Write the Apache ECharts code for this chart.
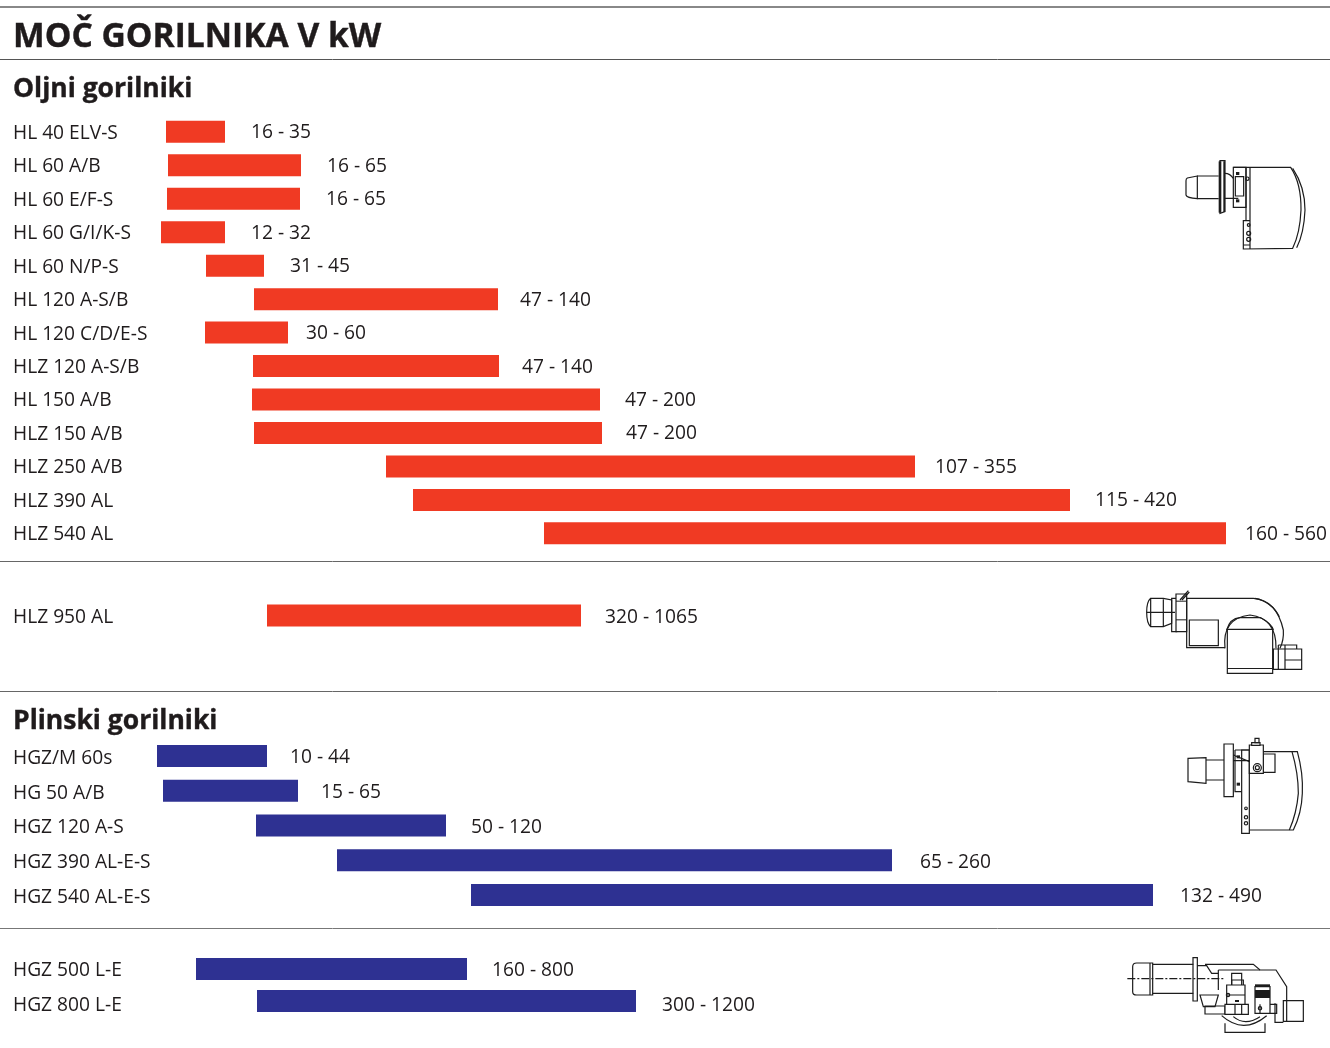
<!DOCTYPE html>
<html><head><meta charset="utf-8">
<style>html,body{margin:0;padding:0;background:#fff}#c{width:1330px;height:1048px}</style>
<script src="https://cdn.jsdelivr.net/npm/echarts@6/dist/echarts.min.js"></script>
</head><body><div id="c"></div>
<script>
// Category names
var oilNames = ['HL 40 ELV-S','HL 60 A/B','HL 60 E/F-S','HL 60 G/I/K-S','HL 60 N/P-S','HL 120 A-S/B','HL 120 C/D/E-S','HLZ 120 A-S/B','HL 150 A/B','HLZ 150 A/B','HLZ 250 A/B','HLZ 390 AL','HLZ 540 AL'];
var oilBigNames = ['HLZ 950 AL'];
var gasNames = ['HGZ/M 60s','HG 50 A/B','HGZ 120 A-S','HGZ 390 AL-E-S','HGZ 540 AL-E-S'];
var gasBigNames = ['HGZ 500 L-E','HGZ 800 L-E'];

// Power range in kW, as printed beside each bar
var oilLow  = [16,16,16,12,31,47,30,47,47,47,107,115,160];
var oilHigh = [35,65,65,32,45,140,60,140,200,200,355,420,560];
var oilBigLow = [320];
var oilBigHigh = [1065];
var gasLow  = [10,15,50,65,132];
var gasHigh = [44,65,120,260,490];
var gasBigLow = [160,300];
var gasBigHigh = [800,1200];

// The printed bars do not follow the kW figures on one linear scale and the
// chart has no axis, so bar extents are read off the picture in its own scale units.
var oilFrom = [166,168,167,161,206,254,205,253,252,254,386,413,544];
var oilTo   = [225,301,300,225,264,498,288,499,600,602,915,1070,1226];
var oilBigFrom = [267];
var oilBigTo   = [581];
var gasFrom = [157,163,256,337,471];
var gasTo   = [267,298,446,892,1153];
var gasBigFrom = [196,257];
var gasBigTo   = [467,636];

// Gap between each bar and its value label
var oilGap = [26,26,26,26,26,22,18,23,25,24,20,25,19];
var oilBigGap = [24];
var gasGap = [23,23,25,28,27];
var gasBigGap = [25,26];

var RED = '#f03a23', BLUE = '#2e3192', INK = '#1f1b1c';
var FONT = '"Open Sans"';

var sections = [
  {names: oilNames, low: oilLow, high: oilHigh, from: oilFrom, to: oilTo, gap: oilGap, color: RED, top: 115.1, height: 435, pad: [3], off: [1]},
  {names: oilBigNames, low: oilBigLow, high: oilBigHigh, from: oilBigFrom, to: oilBigTo, gap: oilBigGap, color: RED, top: 595, height: 41, pad: [4], off: [2]},
  {names: gasNames, low: gasLow, high: gasHigh, from: gasFrom, to: gasTo, gap: gasGap, color: BLUE, top: 738.6, height: 173.75, pad: [5], off: [2]},
  {names: gasBigNames, low: gasBigLow, high: gasBigHigh, from: gasBigFrom, to: gasBigTo, gap: gasBigGap, color: BLUE, top: 953, height: 64, pad: [4, 10], off: [2, 5]}
];

var grids = [], xAxes = [], yAxes = [], series = [];
sections.forEach(function (s, i) {
  var rich = {};
  s.pad.forEach(function (p, k) { rich['p' + k] = {padding: [p, 0, 0, 0], color: INK, fontFamily: FONT, fontSize: 19.2}; });
  grids.push({left: 0, right: 0, top: s.top, height: s.height, containLabel: false});
  xAxes.push({type: 'value', gridIndex: i, min: 0, max: 1330, show: false});
  yAxes.push({
    type: 'category', gridIndex: i, data: s.names, inverse: true,
    axisLine: {show: false}, axisTick: {show: false}, splitLine: {show: false},
    axisLabel: {
      inside: true, margin: 13, align: 'left', color: INK, fontFamily: FONT, fontSize: 19.2,
      formatter: function (v, idx) { return '{p' + Math.min(idx, s.pad.length - 1) + '|' + v + '}'; },
      rich: rich
    },
    z: 5
  });
  series.push({
    type: 'bar', xAxisIndex: i, yAxisIndex: i, stack: 's' + i, barWidth: 22, silent: true,
    itemStyle: {color: 'transparent'}, data: s.from
  });
  series.push({
    type: 'bar', xAxisIndex: i, yAxisIndex: i, stack: 's' + i, barWidth: 22, silent: true,
    itemStyle: {color: s.color},
    data: s.to.map(function (t, k) {
      return {
        value: t - s.from[k],
        label: {show: true, position: 'right', distance: s.gap[k], offset: [0, s.off[Math.min(k, s.off.length - 1)]],
          formatter: s.low[k] + ' - ' + s.high[k],
          color: INK, fontFamily: FONT, fontSize: 19.2}
      };
    })
  });
});

function rule(y, c, w) {
  return {type: 'line', silent: true, shape: {x1: 0, y1: y, x2: 1330, y2: y}, style: {stroke: c, lineWidth: w || 1}};
}
var shapeCount = 0;
var STROKE = '#1c1c1c';
function pathEl(d, style) {
  var name = 'burnerPath' + (shapeCount++);
  echarts.graphic.registerShape(name, echarts.graphic.extendPath(d, {}));
  return {type: name, shape: {}, style: style};
}
function drawing(x, y, lines, rects, circles, fills) {
  var kids = [];
  var st = {stroke: STROKE, fill: null, lineWidth: 3.6};
  (rects || []).forEach(function (r) { kids.push({type: 'rect', shape: {x: r[0], y: r[1], width: r[2], height: r[3]}, style: {stroke: STROKE, fill: '#fff', lineWidth: 3.6}}); });
  lines.forEach(function (d) { kids.push(pathEl(d, st)); });
  (circles || []).forEach(function (c) { kids.push({type: 'circle', shape: {cx: c[0], cy: c[1], r: c[2]}, style: st}); });
  (fills || []).forEach(function (r) { kids.push({type: 'rect', shape: {x: r[0], y: r[1], width: r[2], height: r[3]}, style: {fill: STROKE}}); });
  return {type: 'group', x: x, y: y, scaleX: 1 / 3, scaleY: 1 / 3, silent: true, children: kids};
}

var graphics = [
  rule(7, '#888', 2), rule(59.5, '#555'), rule(561.5, '#666'), rule(691.5, '#666'), rule(928.5, '#777'),
  drawing(1170, 150, [
    'M82 78 L52 84 Q48 86 48 92 L48 135 Q50 144 82 146 Z',
    'M82 78 H146 M82 146 H146',
    'M150 32 H165 V185 L150 190 Z',
    'M190 52 H362 Q394 100 393 180 Q390 250 368 295 L220 297 V212 H240',
    'M368 55 Q405 110 405 180 Q402 250 380 293',
    'M228 52 V212 M240 52 V297 M220 285 H240',
    'M165 70 Q180 70 190 85 M165 145 H205'
  ], [[190,52,38,120],[196,80,25,58]], [[236,225,4],[236,250,6],[236,268,6],[232,86,5]], [[146,34,8,154],[160,34,5,152],[198,66,10,9],[198,148,10,9]]),
  drawing(1130, 580, [
    'M62 55 H100 L125 60 V130 L100 140 H62 Q50 130 50 97 Q50 65 62 55 Z',
    'M50 97 H135 M62 55 V140 M100 58 V138',
    'M150 60 L175 32 M156 60 L178 36',
    'M170 55 H370 Q440 60 460 150 Q462 180 450 205',
    'M375 55 Q425 65 448 110',
    'M170 55 V203 H285',
    'M285 205 Q275 115 360 105 Q440 115 438 205',
    'M290 150 Q300 115 330 113 H392 Q425 130 430 150',
    'M445 195 H500 V207 M465 195 V268 M465 240 H515 M445 195 V268 M430 207 V268'
  ], [[125,55,15,100],[138,42,32,113],[178,120,87,77],[292,148,136,132],[430,207,85,61]], [], [[292,264,136,3],[138,62,32,3],[138,118,32,3]]),
  drawing(1170, 730, [
    'M54 85 L108 83 V160 L54 155 Z',
    'M108 90 H162 M108 150 H162',
    'M280 65 H382 Q400 130 397 190 Q395 250 370 300 L238 300',
    'M366 65 Q385 130 385 190 Q380 250 358 300',
    'M190 75 L238 95 M190 92 H238 M195 60 V185 H215 M195 60 H238'
  ], [[162,42,28,158],[280,72,35,55],[215,60,23,250],[238,45,42,85],[245,38,25,8],[255,25,12,13]], [[262,113,12],[262,113,6],[228,235,4],[228,262,5],[228,280,5]], [[200,76,10,9],[200,158,10,9]]),
  drawing(1120, 945, [
    'M38 65 Q38 54 50 54 H98 V150 H50 Q38 150 38 140 Z M90 54 V150',
    'M98 58 H220 M98 145 H220',
    'M232 62 H260 L275 85 H295 M255 58 L400 58 L420 75 H468 L500 125 V165',
    'M295 75 H420 M295 75 V135',
    'M240 150 H295 L285 185 H250 Z',
    'M305 212 Q370 270 440 212 M340 215 Q375 245 420 215',
    'M315 235 V262 H435 V235',
    'M465 175 V232 H490 M500 165 V230',
    'M335 120 V85 H365 V120 M320 150 H375 M345 178 V208 M365 178 V208 M420 178 V205 M450 178 H470 V205 H450'
  ], [[219,38,13,130],[255,183,60,24],[335,105,35,45],[320,120,55,60],[315,178,70,30],[405,125,45,80],[490,167,60,62]], [[324,150,5],[420,190,5]], [[405,118,45,8],[405,135,45,24],[345,165,12,6]]),
  {type: 'group', x: 1120, y: 945, scaleX: 1 / 3, scaleY: 1 / 3, silent: true, children: [
    pathEl('M22 101 H310', {stroke: STROKE, fill: null, lineWidth: 3.6, lineDash: [24, 6, 6, 6]})
  ]}
];

var heavy = {textBorderColor: INK, textBorderWidth: 0.4};
var chart = echarts.init(document.getElementById('c'), null, {renderer: 'canvas'});
chart.setOption({
  animation: false,
  backgroundColor: '#fff',
  title: [
    {text: 'MOČ GORILNIKA V kW', left: 13, top: 20, padding: 0, textStyle: Object.assign({color: INK, fontFamily: FONT, fontWeight: 'bold', fontSize: 33.6}, heavy)},
    {text: 'Oljni gorilniki', left: 13, top: 76, padding: 0, textStyle: Object.assign({color: INK, fontFamily: FONT, fontWeight: 'bold', fontSize: 26.5}, heavy)},
    {text: 'Plinski gorilniki', left: 13, top: 708, padding: 0, textStyle: Object.assign({color: INK, fontFamily: FONT, fontWeight: 'bold', fontSize: 26.5}, heavy)}
  ],
  grid: grids, xAxis: xAxes, yAxis: yAxes, series: series,
  graphic: graphics
});
</script></body></html>
